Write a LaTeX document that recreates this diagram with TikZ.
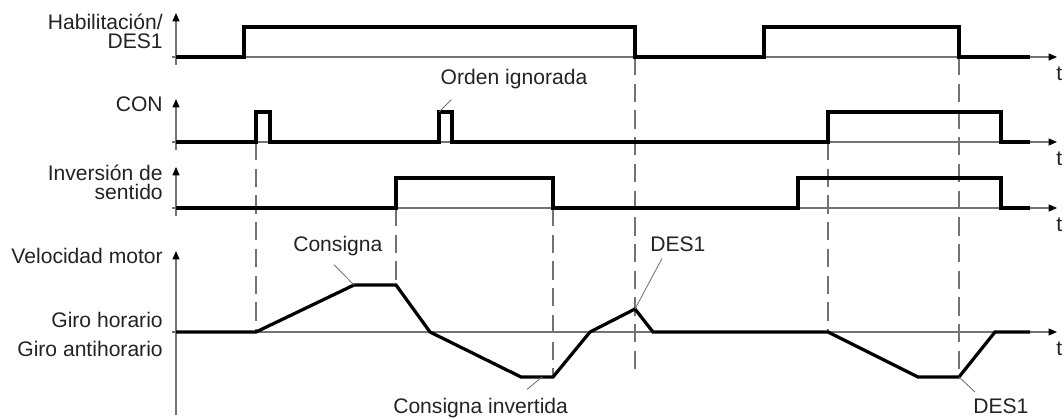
\documentclass[tikz,border=0pt]{standalone}
\usepackage{fontspec}
\setmainfont{Liberation Sans}
\usepackage{xcolor}
\definecolor{axisgray}{RGB}{115,115,115}
\definecolor{textgray}{RGB}{35,35,35}
\usetikzlibrary{arrows.meta}

\begin{document}
\begin{tikzpicture}[
    x=0.025cm, y=-0.025cm,
    >={Triangle[length=6pt,width=5pt,color=black]},
    lbl/.style={font=\fontsize{15}{14.2}\selectfont, text=textgray, inner sep=0pt, align=right},
    axis/.style={draw=axisgray, line width=0.8pt},
    signal/.style={draw=black, line width=2.3pt, line join=miter},
    marker/.style={draw=axisgray, line width=1pt, dash pattern=on 13pt off 6pt},
    leader/.style={draw=axisgray, line width=0.6pt}
]
\useasboundingbox (0,0) rectangle (1064,419);

% ==================== LABELS ====================
\node[lbl, anchor=base east] (lblHab) at (163,49) {Habilitación/\\DES1};
\node[lbl, anchor=base east] (lblCon) at (163,112) {CON};
\node[lbl, anchor=base east] (lblInv) at (163,200) {Inversión de\\sentido};
\node[lbl, anchor=base east] (lblVel) at (163,264) {Velocidad motor};
\node[lbl, anchor=base east] (lblCw) at (163,327) {Giro horario};
\node[lbl, anchor=base east] (lblCcw) at (163,356) {Giro antihorario};

% ==================== AXES ====================
\draw[axis, ->] (176,65) -- (176,13);
\draw[axis, ->] (172,57) -- (1057,57);
\draw[axis, ->] (176,150) -- (176,99);
\draw[axis, ->] (172,142) -- (1057,142);
\draw[axis, ->] (176,216) -- (176,167);
\draw[axis, ->] (172,208) -- (1057,208);
\draw[axis, ->] (176,415) -- (176,251);
\draw[axis, ->] (172,332) -- (1057,332);

\node[lbl, anchor=west] (t1) at (1056,74) {t};
\node[lbl, anchor=west] (t2) at (1056,159) {t};
\node[lbl, anchor=west] (t3) at (1056,225) {t};
\node[lbl, anchor=west] (t4) at (1056,349) {t};

% ==================== EVENT MARKERS ====================
\draw[marker] (256,142) -- (256,332);
\draw[marker] (396,208) -- (396,285);
\draw[marker] (553,208) -- (553,377);
\draw[marker] (635,57) -- (635,377);
\draw[marker] (828,142) -- (828,332);
\draw[marker] (959,57) -- (959,377);

% ==================== SIGNALS ====================
% Habilitacion / DES1
\draw[signal] (176,57) -- (244,57) -- (244,27) -- (635,27) -- (635,57)
    -- (764,57) -- (764,27) -- (959,27) -- (959,57) -- (1030,57);
% CON
\draw[signal] (176,142) -- (256,142) -- (256,112) -- (270,112) -- (270,142)
    -- (439,142) -- (439,112) -- (452,112) -- (452,142)
    -- (828,142) -- (828,112) -- (1001,112) -- (1001,142) -- (1030,142);
% Inversion de sentido
\draw[signal] (176,208) -- (396,208) -- (396,178) -- (553,178) -- (553,208)
    -- (798,208) -- (798,178) -- (1001,178) -- (1001,208) -- (1030,208);
% Velocidad motor
\draw[signal] (176,332) -- (256,332) -- (354,285) -- (396,285) -- (430,332)
    -- (521,377) -- (553,377) -- (590,332) -- (635,309) -- (653,332)
    -- (828,332) -- (918,377) -- (959,377) -- (995,332) -- (1030,332);

% ==================== ANNOTATIONS ====================
\coordinate (ignPulse) at (439,112);
\coordinate (setTop) at (354,285);
\coordinate (desPeak) at (635,309);
\coordinate (setBot) at (542,377);
\coordinate (desLow) at (959,377);

\node[lbl, anchor=base] (lblIgn) at (514,85) {Orden ignorada};
\node[lbl, anchor=base west] (lblSet) at (293,252) {Consigna};
\node[lbl, anchor=base west] (lblDesA) at (650,251) {DES1};
\node[lbl, anchor=base west] (lblInvSet) at (393,413) {Consigna invertida};
\node[lbl, anchor=base west] (lblDesB) at (973,413) {DES1};

\draw[leader] (lblIgn.south west) ++(11,10) -- (ignPulse);
\draw[leader] (lblSet.south west) ++(41,8) -- (setTop);
\draw[leader] (lblDesA.south west) ++(12,7) -- (desPeak);
\draw[leader] (lblInvSet.north west) ++(134,-8) -- (setBot);
\draw[leader] (lblDesB.north west) ++(2,-6) -- (desLow);

\end{tikzpicture}
\end{document}
